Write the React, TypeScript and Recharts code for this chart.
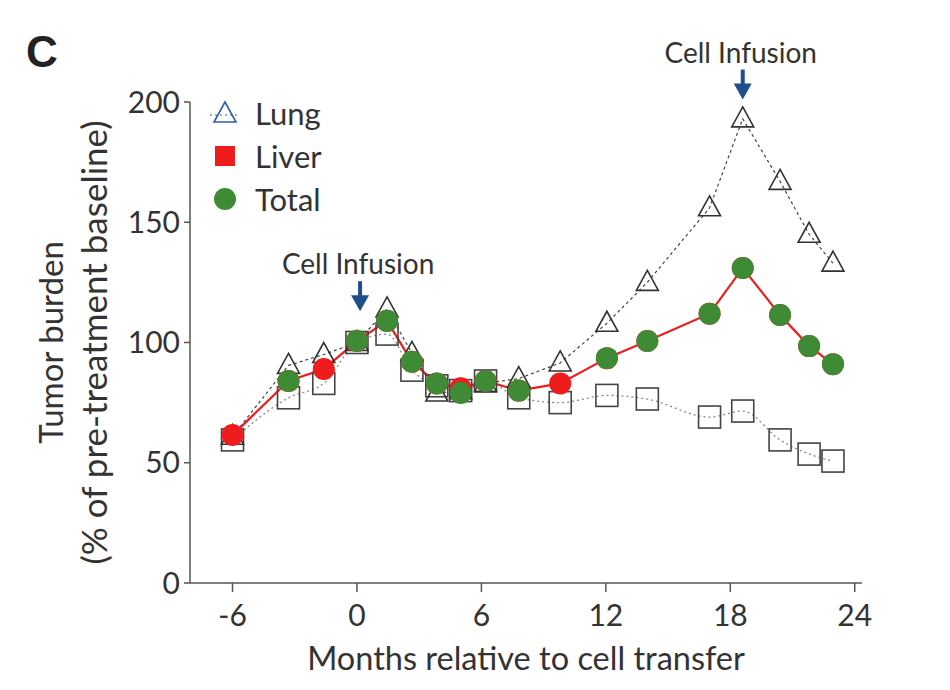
import React from 'react';
import { LineChart, Line, XAxis, YAxis, ReferenceDot, Label } from 'recharts';

// months relative to cell transfer (shared by every series)
const months = [-6, -3.3, -1.6, 0, 1.45, 2.65, 3.85, 5, 6.2, 7.8, 9.8, 12.05, 14, 17, 18.6, 20.4, 21.8, 22.95];
// open triangles
const lung = [61, 90.5, 95, 100, 114, 95.5, 79, 80, 83, 85, 91.5, 108, 125, 156, 193, 167, 145, 133];
// open squares (no legend entry)
const otherSites = [59.5, 77, 83, 100, 103.5, 88.5, 82, 80, 84, 77, 75, 78, 76.5, 69, 71.5, 59.5, 53.6, 50.7];
// red line / red dots
const liver = [61.5, 84, 89, 100.6, 109, 92, 83, 81, 84, 80, 83, 93.5, 100.6, 112, 131, 111.4, 98.5, 91];
// green dots
const total = [null, 84, null, 100.6, 109, 92, 83, 79, 84, 80, null, 93.5, 100.6, 112, 131, 111.4, 98.5, 91];

const xTicks = [-6, 0, 6, 12, 18, 24];
const yTicks = [0, 50, 100, 150, 200];
const infusions = [
  { month: 0.15, level: 113 },
  { month: 18.6, level: 201 },
];

const data = months.map((m, i) => ({
  month: m,
  lung: lung[i],
  other: otherSites[i],
  liver: liver[i],
  total: total[i],
}));

const FONT = 'Lato, "Open Sans", sans-serif';
const TEXT = '#333';
const AXIS = '#555';

const Triangle = (props: any) => {
  const { cx, cy, index } = props;
  if (cx == null || cy == null) return <g key={`t-${index}`} />;
  return (
    <path
      key={`t-${index}`}
      d={`M${cx},${cy - 12} L${cx + 11},${cy + 8} L${cx - 11},${cy + 8} Z`}
      fill="none"
      stroke="#333"
      strokeWidth={1.6}
    />
  );
};

const Square = (props: any) => {
  const { cx, cy, index } = props;
  if (cx == null || cy == null) return <g key={`s-${index}`} />;
  return (
    <rect key={`s-${index}`} x={cx - 11} y={cy - 11} width={22} height={22} fill="none" stroke="#444" strokeWidth={1.6} />
  );
};

const Infusion = (props: any) => {
  const { cx, cy } = props;
  if (cx == null || cy == null) return <g />;
  return (
    <g>
      <text x={cx - 2} y={cy - 37} textAnchor="middle" fontFamily={FONT} fontSize={28} fill={TEXT}>
        Cell Infusion
      </text>
      <rect x={cx - 2} y={cy - 30} width={4} height={15} fill="#1f4e8c" />
      <path d={`M${cx - 9},${cy - 16} L${cx + 9},${cy - 16} L${cx},${cy} Z`} fill="#1f4e8c" />
    </g>
  );
};

const legendItems = [
  { name: 'Lung', kind: 'tri' },
  { name: 'Liver', kind: 'sq' },
  { name: 'Total', kind: 'dot' },
];

const ChartLegend = () => (
  <div style={{ position: 'absolute', left: 210, top: 91, fontFamily: FONT, fontSize: 31, color: TEXT }}>
    {legendItems.map((it) => (
      <div key={it.name} style={{ display: 'flex', alignItems: 'center', height: 43 }}>
        <svg width={30} height={30} style={{ marginRight: 15 }}>
          {it.kind === 'tri' && (
            <>
              <line x1={0} y1={17} x2={30} y2={17} stroke="#2f5fa8" strokeDasharray="2 3" />
              <path d="M15,4 L26,24 L4,24 Z" fill="none" stroke="#2f5fa8" strokeWidth={1.6} />
            </>
          )}
          {it.kind === 'sq' && <rect x={5} y={5} width={20} height={20} fill="#ee1c1c" />}
          {it.kind === 'dot' && <circle cx={15} cy={15} r={11} fill="#3f8a35" />}
        </svg>
        <span>{it.name}</span>
      </div>
    ))}
  </div>
);

const YLabel = (props: any) => {
  const { viewBox } = props;
  const cy = viewBox.y + viewBox.height / 2;
  return (
    <g fontFamily={FONT} fill={TEXT}>
      <text x={50} y={cy} fontSize={33} transform={`rotate(-90, 50, ${cy})`} textAnchor="middle" dominantBaseline="central">
        Tumor burden
      </text>
      <text x={93} y={cy} fontSize={35} transform={`rotate(-90, 93, ${cy})`} textAnchor="middle" dominantBaseline="central">
        (% of pre-treatment baseline)
      </text>
    </g>
  );
};

export default function App() {
  return (
    <div style={{ position: 'absolute', left: 0, top: 0, width: 950, height: 690, background: '#fff' }}>
      <LineChart width={950} height={690} data={data} margin={{ top: 102, right: 88, bottom: 14, left: 130 }}>
        <XAxis
          type="number"
          dataKey="month"
          domain={[-8.05, 24.35]}
          ticks={xTicks}
          tickSize={9}
          tickMargin={13}
          height={93}
          stroke={AXIS}
          strokeWidth={1.5}
          tick={{ fontFamily: FONT, fontSize: 30, fill: TEXT }}
        >
          <Label
            value="Months relative to cell transfer"
            position="insideBottom"
            offset={6}
            style={{ fontFamily: FONT, fontSize: 32.5, fill: TEXT }}
          />
        </XAxis>
        <YAxis
          type="number"
          domain={[0, 200]}
          ticks={yTicks}
          tickSize={6}
          tickMargin={4}
          width={60}
          stroke={AXIS}
          strokeWidth={1.5}
          tick={{ fontFamily: FONT, fontSize: 30, fill: TEXT }}
        >
          <Label content={YLabel} />
        </YAxis>
        <Line
          dataKey="other"
          type="monotone"
          stroke="#888"
          strokeWidth={1.3}
          strokeDasharray="2 3"
          dot={Square}
          activeDot={false}
          isAnimationActive={false}
        />
        <Line
          dataKey="lung"
          type="linear"
          stroke="#444"
          strokeWidth={1.2}
          strokeDasharray="3 3"
          dot={Triangle}
          activeDot={false}
          isAnimationActive={false}
        />
        <Line
          dataKey="liver"
          type="linear"
          stroke="#ee1c1c"
          strokeWidth={2.2}
          dot={{ r: 11, fill: '#ee1c1c', stroke: 'none' }}
          activeDot={false}
          isAnimationActive={false}
        />
        <Line
          dataKey="total"
          type="linear"
          stroke="none"
          dot={{ r: 11, fill: '#3f8a35', stroke: 'none' }}
          activeDot={false}
          isAnimationActive={false}
        />
        {infusions.map((p) => (
          <ReferenceDot key={p.month} x={p.month} y={p.level} ifOverflow="visible" shape={Infusion} />
        ))}
      </LineChart>
      <ChartLegend />
      <div
        style={{
          position: 'absolute',
          left: 26,
          top: 30,
          fontFamily: '"Liberation Sans", Arial, sans-serif',
          fontWeight: 'bold',
          fontSize: 44,
          color: '#222',
          lineHeight: 1,
        }}
      >
        C
      </div>
    </div>
  );
}
